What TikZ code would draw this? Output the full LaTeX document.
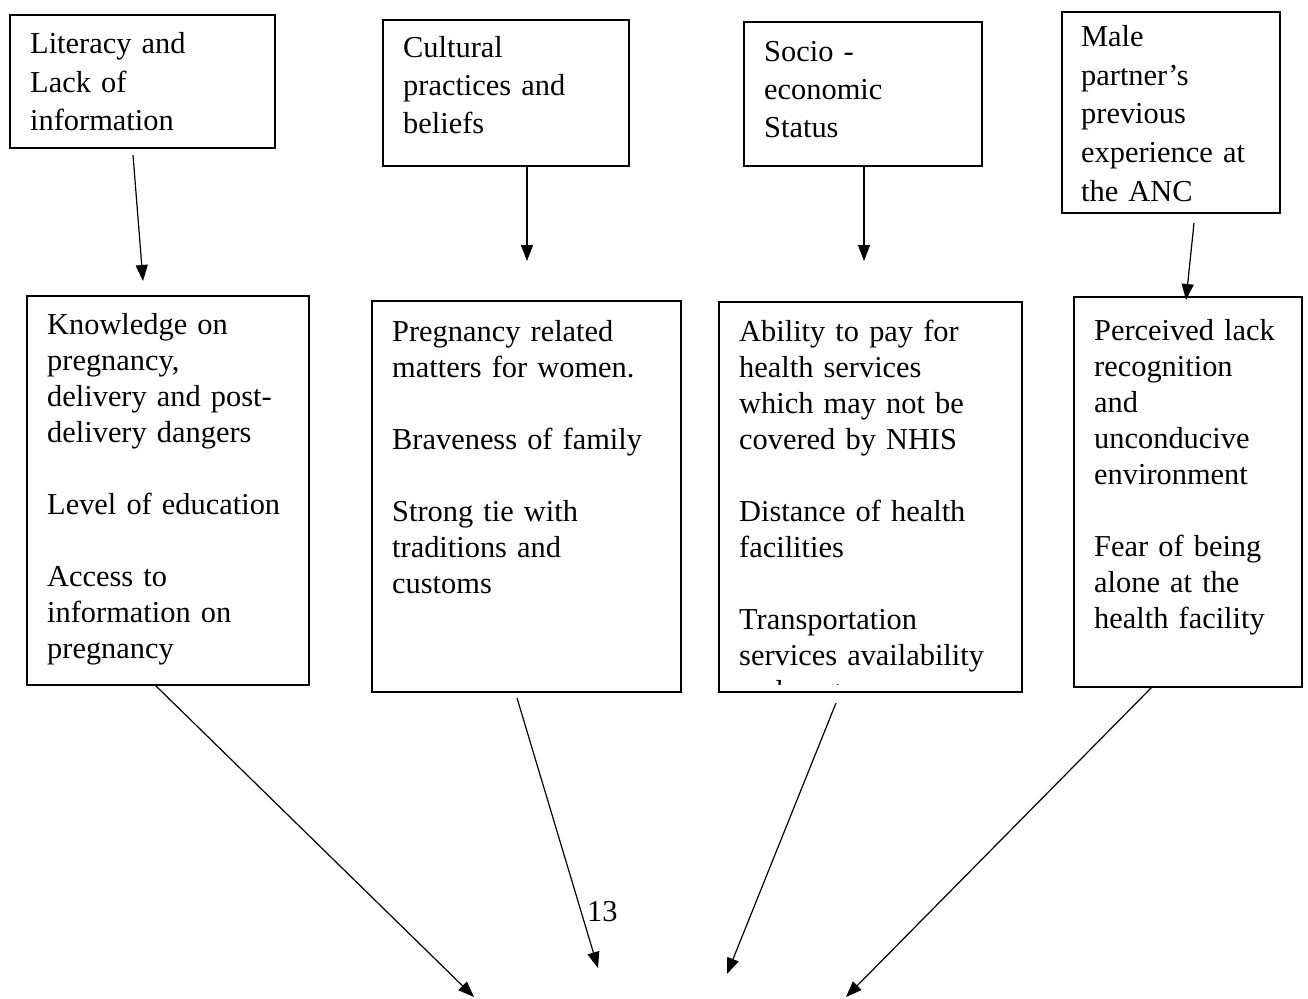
\documentclass[tikz,border=0pt]{standalone}
\usepackage{fontspec}
\setmainfont{Liberation Serif}
\usetikzlibrary{arrows.meta}
\begin{document}
\begin{tikzpicture}[x=1pt,y=-1pt,
  box/.style={draw, line width=1.3pt, inner sep=0pt, outer sep=0pt, anchor=north west},
  toptxt/.style={inner sep=0pt, anchor=base west, text width=320pt, align=left, font=\fontsize{30.4}{38.5}\selectfont},
  lowtxt/.style={inner sep=0pt, anchor=base west, text width=320pt, align=left, font=\fontsize{30.4}{36}\selectfont},
  arr/.style={line width=1.2pt, -{Triangle[length=16pt,width=12pt]}}]
\useasboundingbox (0,0) rectangle (1308,998);

% top boxes
\node[box, minimum width=265pt, minimum height=133pt] (t1) at (10,15) {};
\node[toptxt] (t1x) at (30,54) {Literacy and\\Lack of\\information};
\node[box, minimum width=246pt, minimum height=146pt] (t2) at (383,20) {};
\node[toptxt] (t2x) at (403,57) {Cultural\\practices and\\beliefs};
\node[box, minimum width=238pt, minimum height=144pt] (t3) at (744,22) {};
\node[toptxt] (t3x) at (764,61) {Socio -\\economic\\Status};
\node[box, minimum width=218pt, minimum height=201pt] (t4) at (1062,12) {};
\node[toptxt] (t4x) at (1081,47) {Male\\partner’s\\previous\\experience at\\the ANC};

% lower boxes
\node[box, minimum width=282pt, minimum height=389pt] (b1) at (27,296) {};
\node[lowtxt] (b1x) at (47,334) {Knowledge on\\pregnancy,\\delivery and post-\\delivery dangers\\[36pt]Level of education\\[36pt]Access to\\information on\\pregnancy};
\node[box, minimum width=309pt, minimum height=391pt] (b2) at (372,301) {};
\node[lowtxt] (b2x) at (392,341) {Pregnancy related\\matters for women.\\[36pt]Braveness of family\\[36pt]Strong tie with\\traditions and\\customs};
\node[box, minimum width=303pt, minimum height=390pt] (b3) at (719,302) {};
\begin{scope}
  \clip (719,302) rectangle (1022,684.5);
  \node[lowtxt] (b3x) at (739,341) {Ability to pay for\\health services\\which may not be\\covered by NHIS\\[36pt]Distance of health\\facilities\\[36pt]Transportation\\services availability\\and cost};
\end{scope}
\node[box, minimum width=228pt, minimum height=390pt] (b4) at (1074,297) {};
\node[lowtxt] (b4x) at (1094,340) {Perceived lack\\recognition\\and\\unconducive\\environment\\[36pt]Fear of being\\alone at the\\health facility};

% page number
\node[inner sep=0pt, anchor=base west, font=\fontsize{30.4}{36}\selectfont] (pg) at (587,921) {13};

% connector ends
\coordinate (a1s) at (133,155); \coordinate (a1e) at (143,281);
\coordinate (a2s) at (527,166); \coordinate (a2e) at (527,261);
\coordinate (a3s) at (864,166); \coordinate (a3e) at (864,261);
\coordinate (a4s) at (1194,223); \coordinate (a4e) at (1186,300);
\coordinate (c1s) at (155,685); \coordinate (c1e) at (474,997);
\coordinate (c2s) at (517,698); \coordinate (c2e) at (598,968);
\coordinate (c3s) at (836,703); \coordinate (c3e) at (727,974);
\coordinate (c4s) at (1152,687); \coordinate (c4e) at (846,997);

\draw[arr] (a1s) -- (a1e);
\draw[arr] (a2s) -- (a2e);
\draw[arr] (a3s) -- (a3e);
\draw[arr] (a4s) -- (a4e);
\draw[arr] (c1s) -- (c1e);
\draw[arr] (c2s) -- (c2e);
\draw[arr] (c3s) -- (c3e);
\draw[arr] (c4s) -- (c4e);
\end{tikzpicture}
\end{document}
